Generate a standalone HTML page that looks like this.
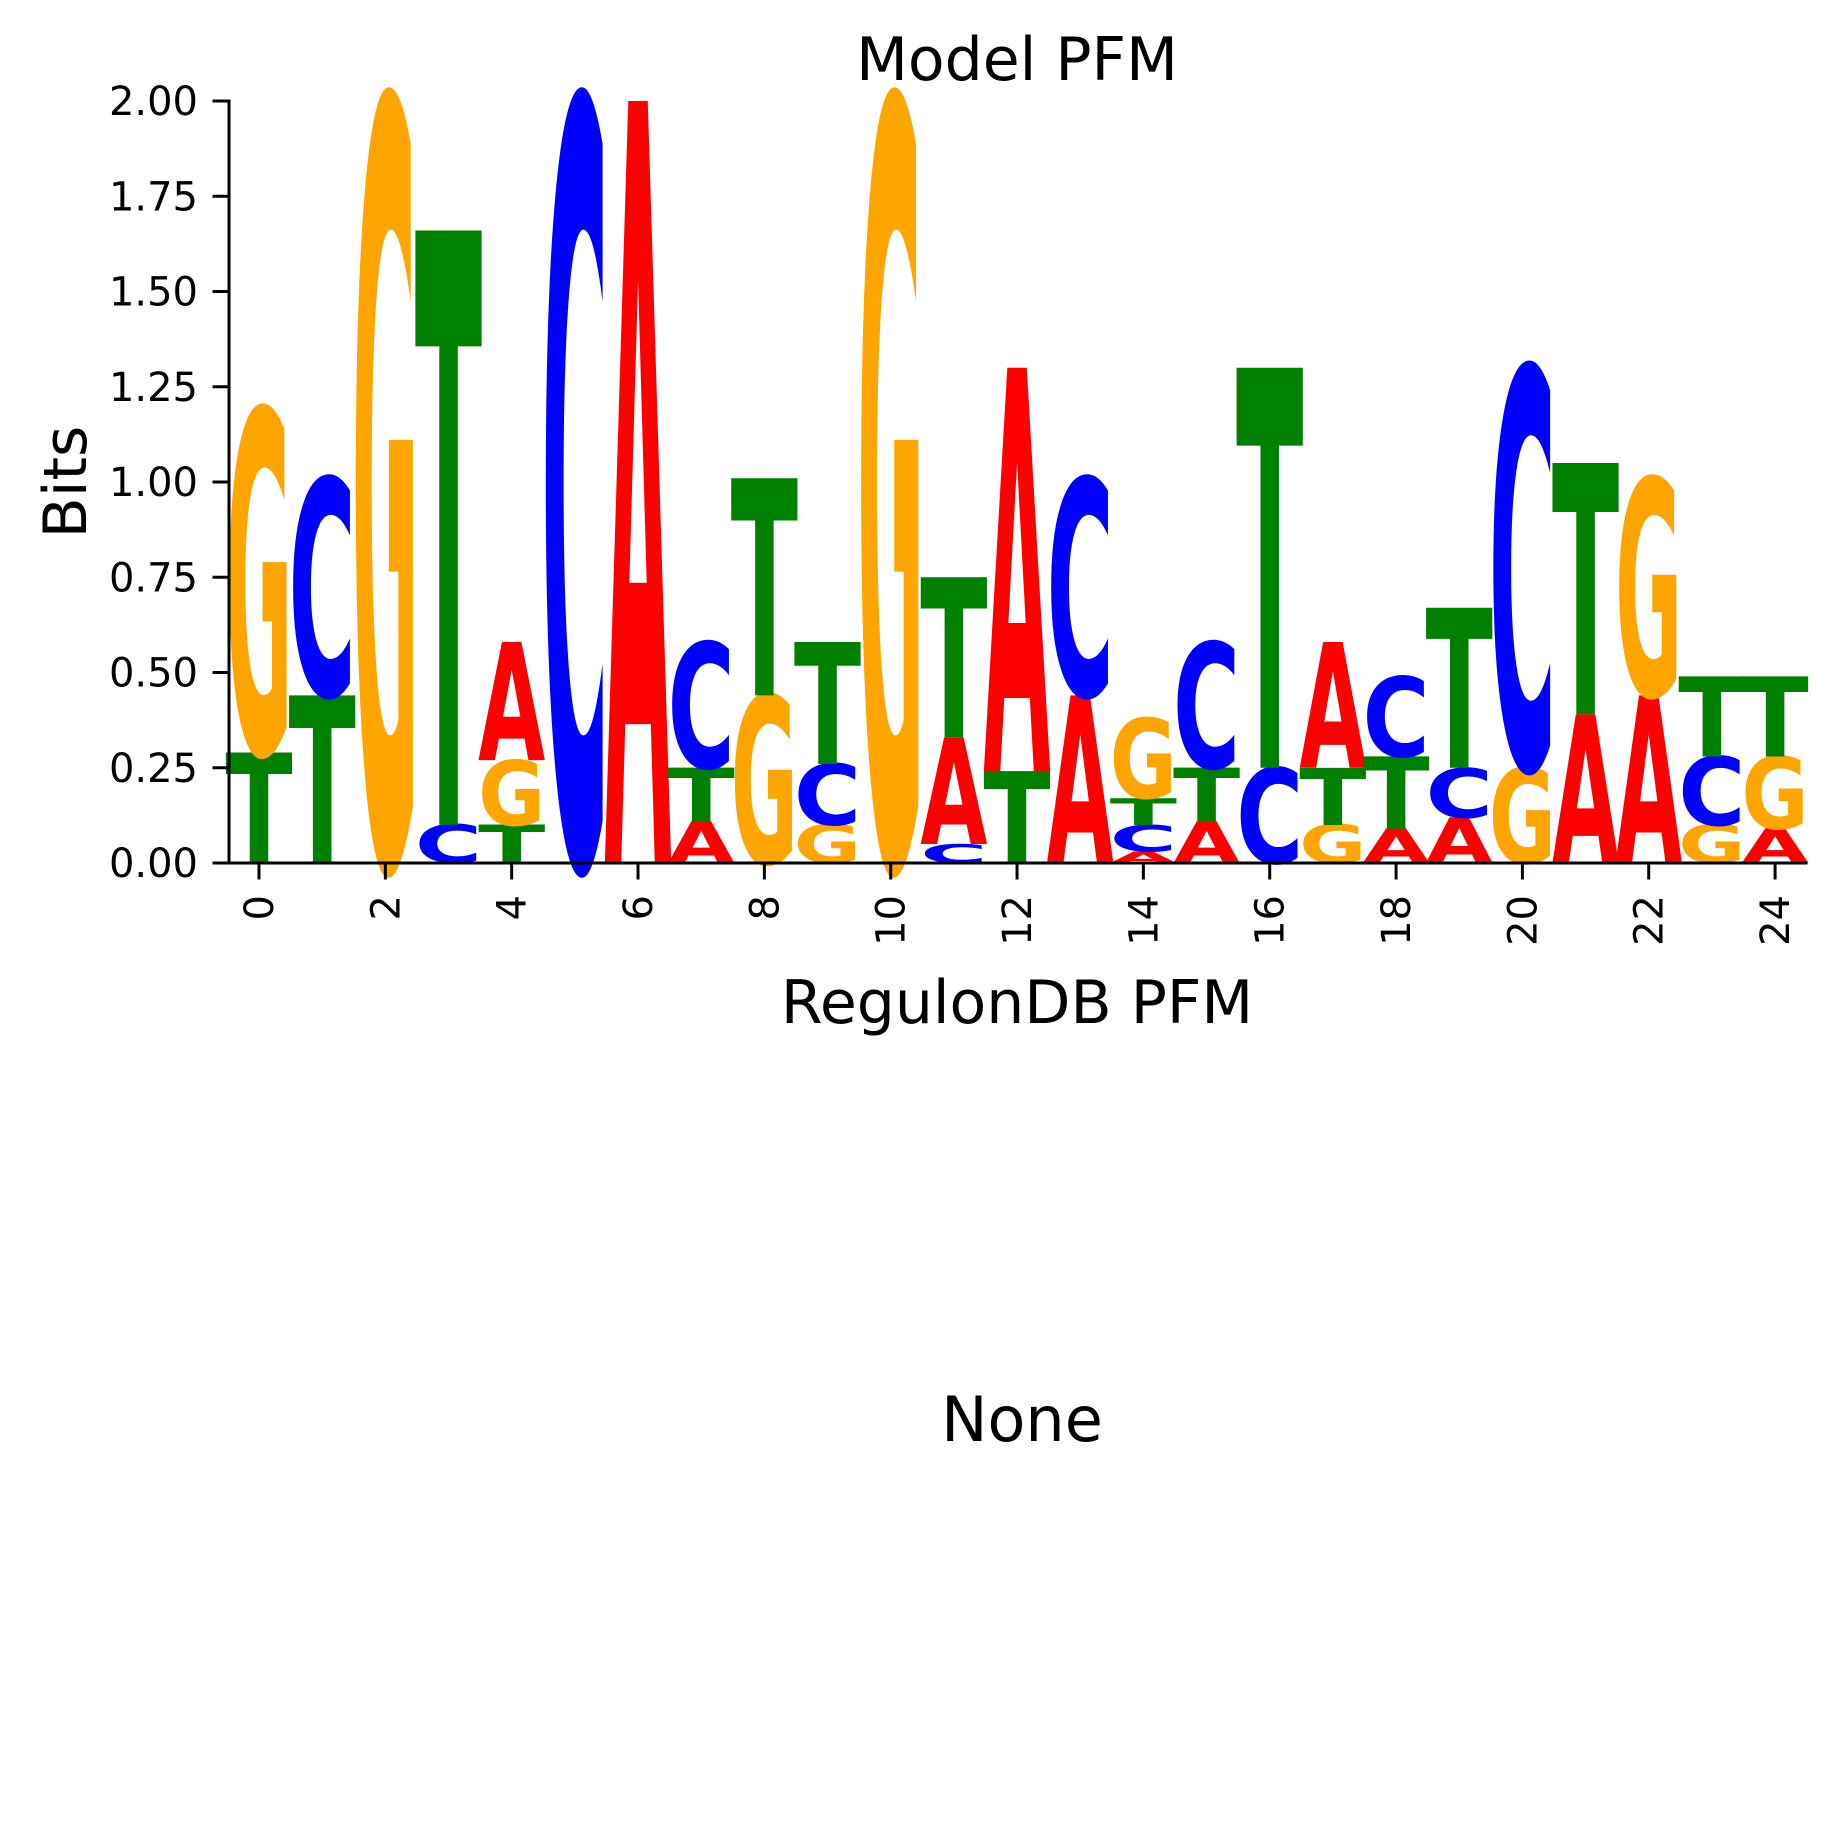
<!DOCTYPE html>
<html><head><meta charset="utf-8"><style>
html,body{margin:0;padding:0;background:#fff;}
svg{display:block;}
text{font-family:"DejaVu Sans","Liberation Sans",sans-serif;}
</style></head><body>
<svg id="chart" width="1834" height="1834" viewBox="0 0 1834 1834" xmlns="http://www.w3.org/2000/svg">
<rect width="1834" height="1834" fill="#fff"/>
<text x="1017" y="80" font-size="60" text-anchor="middle">Model PFM</text>
<text x="1017" y="1023" font-size="60" text-anchor="middle">RegulonDB PFM</text>
<text transform="translate(86,482) rotate(-90)" font-size="60" text-anchor="middle">Bits</text>
<text x="1022" y="1441" font-size="62" text-anchor="middle">None</text>
<g id="letters"></g>
<g id="axes"></g>
</svg>
<script>
const positions = [0,1,2,3,4,5,6,7,8,9,10,11,12,13,14,15,16,17,18,19,20,21,22,23,24];
const bitsA = [0,0,0,0,0.31,0,2.00,0.11,0,0,0,0.28,1.06,0.44,0.03,0.11,0,0.33,0.09,0.12,0,0.39,0.44,0,0.09];
const bitsC = [0,0.57,0,0.10,0,2.00,0,0.33,0,0.16,0,0.05,0,0.57,0.07,0.33,0.25,0,0.21,0.13,1.05,0,0,0.18,0];
const bitsG = [0.90,0,2.00,0,0.17,0,0,0,0.44,0.10,2.00,0,0,0,0.21,0,0,0.10,0,0,0.25,0,0.57,0.10,0.19];
const bitsT = [0.29,0.44,0,1.56,0.10,0,0,0.14,0.57,0.32,0,0.42,0.24,0,0.07,0.14,1.05,0.15,0.19,0.42,0,0.66,0,0.21,0.21];
const yTicks = [0,0.25,0.5,0.75,1.0,1.25,1.5,1.75,2.0];
const yTickLabels = ["0.00","0.25","0.50","0.75","1.00","1.25","1.50","1.75","2.00"];
const xTicks = [0,2,4,6,8,10,12,14,16,18,20,22,24];

const NS = "http://www.w3.org/2000/svg";
const X0 = 259, XU = 63.17, Y0 = 863, YU = 381;
const xs = v => X0 + XU * v;
const ys = v => Y0 - YU * v;
const colors = {A:"#ff0000", C:"#0000ff", G:"#ffa500", T:"#008000"};
const letG = document.getElementById("letters");
const FS = 100, CAP = 0.729 * FS;

positions.forEach((p, i) => {
  const items = [["A",bitsA[i]],["C",bitsC[i]],["G",bitsG[i]],["T",bitsT[i]]].filter(d => d[1] > 0);
  items.sort((a, b) => a[1] - b[1]);
  let base = 0;
  items.forEach(([b, h]) => {
    const w = 0.95 * XU;
    const x = xs(p) - w / 2;
    const yb = ys(base);
    const hp = YU * h;
    const t = document.createElementNS(NS, "text");
    
    
    t.setAttribute("x", 0);
    t.setAttribute("y", 0);
    t.setAttribute("font-size", FS);
    t.setAttribute("font-weight", "bold");
    t.setAttribute("fill", colors[b]);
    t.setAttribute("textLength", w * 1.12);
    t.setAttribute("lengthAdjust", "spacingAndGlyphs");
    t.setAttribute("transform", "translate(" + (x - w * 0.06) + "," + yb + ") scale(1," + (hp / CAP) + ")");
    t.textContent = b;
    letG.appendChild(t);
    base += h;
  });
});

const ax = document.getElementById("axes");
function line(x1, y1, x2, y2, name) {
  const l = document.createElementNS(NS, "line");
  
  
  l.setAttribute("x1", x1); l.setAttribute("y1", y1);
  l.setAttribute("x2", x2); l.setAttribute("y2", y2);
  l.setAttribute("stroke", "#000"); l.setAttribute("stroke-width", 3);
  l.setAttribute("stroke-linecap", "square");
  ax.appendChild(l);
}
line(229, ys(2), 229, Y0, "y-axis-line");
line(229, Y0, 1806, Y0, "x-axis-line");
yTicks.forEach((v, i) => {
  line(214, ys(v), 229, ys(v), "y-tick");
  const t = document.createElementNS(NS, "text");
  
  
  t.setAttribute("x", 198); t.setAttribute("y", ys(v) + 14);
  t.setAttribute("font-size", 40); t.setAttribute("text-anchor", "end");
  t.textContent = yTickLabels[i];
  ax.appendChild(t);
});
xTicks.forEach(v => {
  line(xs(v), Y0, xs(v), Y0 + 15, "x-tick");
  const t = document.createElementNS(NS, "text");
  
  
  t.setAttribute("font-size", 40); t.setAttribute("text-anchor", "end");
  t.setAttribute("transform", "translate(" + (xs(v) + 14) + "," + 895 + ") rotate(-90)");
  t.textContent = String(v);
  ax.appendChild(t);
});
</script>
</body></html>
